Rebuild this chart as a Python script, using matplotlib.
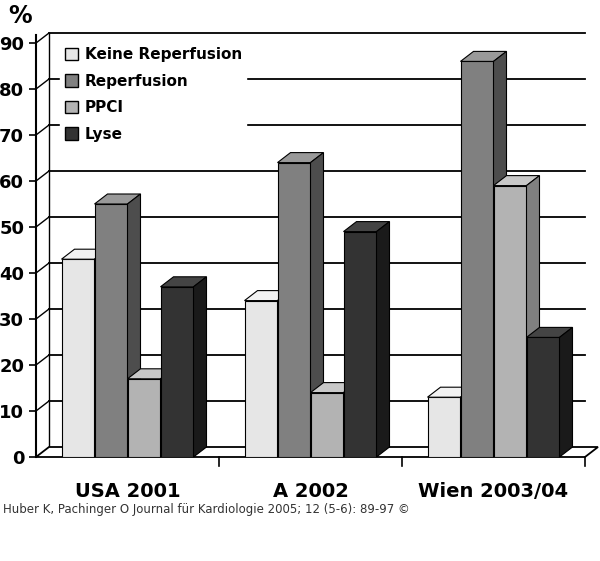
import matplotlib
matplotlib.use("Agg")
import matplotlib.pyplot as plt
from matplotlib.patches import Polygon

categories = ["USA 2001", "A 2002", "Wien 2003/04"]
series = ["Keine Reperfusion", "Reperfusion", "PPCI", "Lyse"]
keine = [43, 34, 13]
reperf = [55, 64, 86]
ppci = [17, 14, 59]
lyse = [37, 49, 26]
yticks = [0, 10, 20, 30, 40, 50, 60, 70, 80, 90]

values = [keine, reperf, ppci, lyse]
front = ["#e6e6e6", "#808080", "#b3b3b3", "#333333"]
top = ["#f2f2f2", "#999999", "#c8c8c8", "#444444"]
side = ["#b0b0b0", "#4d4d4d", "#808080", "#1a1a1a"]

fig = plt.figure(figsize=(6, 5.61), dpi=100)
ax = fig.add_axes([36/600, 104/561, 549/600, 422/561])
ymax = 422/4.6
ax.set_xlim(-0.5, 2.5)
ax.set_ylim(0, ymax)
dx = 13/183
dy = 10/4.6
w = 33/183

for s in ["top", "right", "bottom"]:
    ax.spines[s].set_visible(False)
ax.spines["left"].set_linewidth(1.5)
ax.set_xticks([])
ax.set_yticks(yticks)
ax.set_yticklabels([str(t) for t in yticks], fontsize=13, fontweight="bold")
ax.tick_params(axis="y", length=5, width=1.2)

# back gridlines + left wall connector
for t in yticks[1:]:
    ax.plot([-0.5 + dx, 2.5], [t + dy, t + dy], color="black", lw=1.3, zorder=1, clip_on=False)
    ax.plot([-0.5, -0.5 + dx], [t, t + dy], color="black", lw=1, zorder=1, clip_on=False)
ax.plot([-0.5 + dx, -0.5 + dx], [dy, 90 + dy], color="black", lw=1, zorder=1, clip_on=False)

# floor
ax.add_patch(Polygon([(-0.5, 0), (2.5, 0), (2.5 + dx, dy), (-0.5 + dx, dy)],
                     closed=True, facecolor="white", edgecolor="black", lw=1.3, zorder=2, clip_on=False))
for b in [0.5, 1.5, 2.5]:
    ax.plot([b, b], [0, -2], color="black", lw=1.2, clip_on=False, zorder=2)

z = 3
for ci in range(len(categories)):
    for si in range(len(series)):
        v = values[si][ci]
        x0 = ci - 2 * w + si * w
        ax.bar(x0, v, width=w, align="edge", color=front[si], edgecolor="black", lw=0.8, zorder=z)
        ax.add_patch(Polygon([(x0, v), (x0 + w, v), (x0 + w + dx, v + dy), (x0 + dx, v + dy)],
                             closed=True, facecolor=top[si], edgecolor="black", lw=0.8, zorder=z, clip_on=False))
        ax.add_patch(Polygon([(x0 + w, 0), (x0 + w + dx, dy), (x0 + w + dx, v + dy), (x0 + w, v)],
                             closed=True, facecolor=side[si], edgecolor="black", lw=0.8, zorder=z, clip_on=False))
        z += 1

# legend
from matplotlib.patches import Patch
handles = [Patch(facecolor=front[i], edgecolor="black") for i in range(4)]
leg = ax.legend(handles, series, loc="upper left", bbox_to_anchor=(0.03, 1.0), frameon=True,
                prop={"weight": "bold", "size": 11}, handlelength=0.9, handleheight=0.9,
                labelspacing=0.75, borderpad=0.3, handletextpad=0.4)
leg.get_frame().set_edgecolor("white")
leg.get_frame().set_facecolor("white")
leg.get_frame().set_alpha(1)
leg.set_zorder(50)

for ci, c in enumerate(categories):
    ax.text(ci, -5.5, c, ha="center", va="top", fontsize=14, fontweight="bold")

fig.text(8/600, 1 - 16/561, "%", fontsize=17, fontweight="bold", va="center")
fig.text(3/600, 1 - 510/561, "Huber K, Pachinger O Journal für Kardiologie 2005; 12 (5-6): 89-97 ©",
         fontsize=8.5, color="#333333", va="center")

fig.savefig("out.png", dpi=100)
